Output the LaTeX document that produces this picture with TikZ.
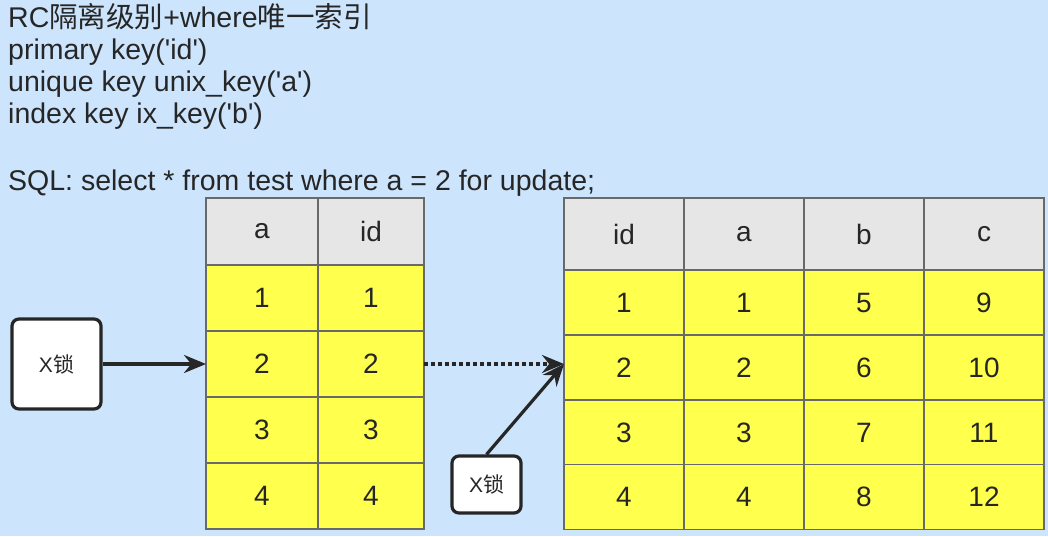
\documentclass[tikz,border=0pt]{standalone}
\usepackage{fontspec}
\setmainfont{Liberation Sans}[Ligatures=TeXOff]
\newfontfamily\cjk{Noto Sans CJK SC}
\usepackage{tikz}
\usetikzlibrary{positioning,arrows.meta}
\usepackage{xcolor}

\definecolor{bgblue}{RGB}{204,228,252}
\definecolor{hdrgray}{RGB}{230,230,230}
\definecolor{celly}{RGB}{255,255,77}
\definecolor{lineg}{RGB}{105,105,105}
\definecolor{ink}{RGB}{38,38,38}

\tikzset{
  cell/.style={draw=lineg, line width=1.8pt, fill=celly, inner sep=0pt, outer sep=0pt,
    text=ink, font=\fontsize{28}{32}\selectfont},
  hdr/.style={cell, fill=hdrgray},
  lockbox/.style={draw=ink, line width=3.2pt, fill=white, rounded corners=7pt, inner sep=0pt,
    text=ink, font=\fontsize{21}{24}\selectfont},
  link/.style={->, line width=3.2pt, draw=ink},
  heading/.style={anchor=base west, inner sep=0pt, text=ink, font=\fontsize{28.5}{32}\selectfont},
}

\begin{document}
\begin{tikzpicture}[x=1pt, y=-1pt, >={Stealth[length=22pt,width=18pt]}]

% Background
\fill[bgblue] (0,0) rectangle (1048,536);
\useasboundingbox (0,0) rectangle (1048,536);

% Heading
\node[heading] (t1) at (8,27) {RC{\cjk 隔离级别}+where{\cjk 唯一索引}};
\node[heading] (t2) at (8,59) {primary key('id')};
\node[heading] (t3) at (8,91) {unique key unix\_key('a')};
\node[heading] (t4) at (8,123) {index key ix\_key('b')};
\node[heading] (t5) at (8,190) {SQL: select * from test where a = 2 for update;};

% Index table (a, id)
\node[hdr, minimum width=112pt, minimum height=67pt] (L-a0) at (262,231.5) {a};
\node[hdr, minimum width=106pt, minimum height=67pt] (L-id0) at (371,231.5) {id};
\foreach \r/\y in {1/298,2/364,3/430,4/496} {
    \node[cell, minimum width=112pt, minimum height=66pt] (L-a\r) at (262,\y) {\r};
    \node[cell, minimum width=106pt, minimum height=66pt] (L-id\r) at (371,\y) {\r};
}

% Clustered table (id, a, b, c)
\foreach \c/\x in {id/624,a/744,b/864,c/984}
    \node[hdr, minimum width=120pt, minimum height=72pt] (R-\c0) at (\x,234) {\c};
\foreach \r/\y in {1/302.5,2/367.5,3/432.5,4/497} {
    \pgfmathtruncatemacro{\vb}{\r+4}
    \pgfmathtruncatemacro{\vc}{\r+8}
    \node[cell, minimum width=120pt, minimum height=65pt] (R-id\r) at (624,\y) {\r};
    \node[cell, minimum width=120pt, minimum height=65pt] (R-a\r) at (744,\y) {\r};
    \node[cell, minimum width=120pt, minimum height=65pt] (R-b\r) at (864,\y) {\vb};
    \node[cell, minimum width=120pt, minimum height=65pt] (R-c\r) at (984,\y) {\vc};
}

% Locks
\node[lockbox, minimum width=89pt, minimum height=90pt] (xl1) at (56.5,364) {X{\cjk 锁}};
\node[lockbox, minimum width=69pt, minimum height=57pt] (xl2) at (486.5,484.5) {X{\cjk 锁}};

% Arrows
\draw[link] (xl1) -- (L-a2.west);
\draw[link, dash pattern=on 3.5pt off 3.5pt] (L-id2.east) -- (R-id2.west |- L-id2.east);
\draw[link] (xl2.north) -- (R-id2.west |- L-id2.east);
\end{tikzpicture}
\end{document}
